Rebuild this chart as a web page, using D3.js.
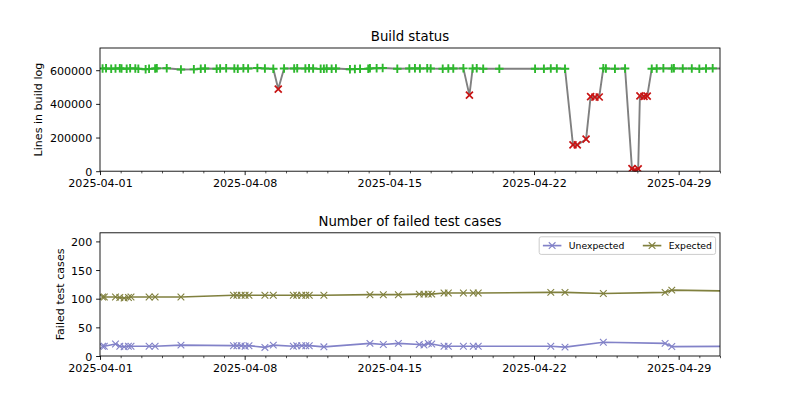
<!DOCTYPE html>
<html><head><meta charset="utf-8">
<script src="https://cdn.jsdelivr.net/npm/d3@7"></script>
<style>
body{margin:0;background:#fff}
svg{display:block}
text{font-family:"DejaVu Sans",sans-serif;fill:#000}
</style>
</head><body>
<svg id="chart" width="800" height="400"></svg>
<script>
// ---------- DATA ----------
const buildTimes = [
 "2025-04-01T03:00","2025-04-01T07:00","2025-04-01T13:00","2025-04-01T18:00","2025-04-01T23:00",
 "2025-04-02T01:00","2025-04-02T07:00","2025-04-02T11:00","2025-04-02T17:00","2025-04-02T20:30",
 "2025-04-03T05:00","2025-04-03T09:00","2025-04-03T16:00","2025-04-03T18:00","2025-04-04T05:30",
 "2025-04-04T22:00","2025-04-05T13:00","2025-04-05T21:00","2025-04-06T02:00","2025-04-06T15:30",
 "2025-04-06T19:30","2025-04-07T02:30","2025-04-07T12:00","2025-04-07T16:00","2025-04-07T22:30",
 "2025-04-08T04:00","2025-04-08T14:45","2025-04-08T23:30","2025-04-09T09:15","2025-04-09T15:00",
 "2025-04-09T21:45","2025-04-10T09:30","2025-04-10T13:00","2025-04-10T22:30","2025-04-11T02:45",
 "2025-04-11T07:30","2025-04-11T16:15","2025-04-11T20:00","2025-04-11T23:15","2025-04-12T05:00",
 "2025-04-12T10:00","2025-04-13T02:15","2025-04-13T08:00","2025-04-13T14:00","2025-04-13T23:30",
 "2025-04-14T01:30","2025-04-14T09:15","2025-04-14T16:15","2025-04-15T09:15","2025-04-15T23:15",
 "2025-04-16T05:45","2025-04-16T11:30","2025-04-16T20:00","2025-04-17T00:00","2025-04-17T14:00",
 "2025-04-17T20:30","2025-04-18T02:15","2025-04-18T14:00","2025-04-18T21:00","2025-04-19T00:45",
 "2025-04-19T05:30","2025-04-19T13:00","2025-04-20T07:45","2025-04-22T01:15","2025-04-22T11:30",
 "2025-04-22T19:30","2025-04-23T02:30","2025-04-23T12:00","2025-04-23T21:15","2025-04-24T02:15",
 "2025-04-24T12:30","2025-04-24T17:45","2025-04-24T22:45","2025-04-25T03:45","2025-04-25T08:30",
 "2025-04-25T11:30","2025-04-25T22:00","2025-04-26T09:45","2025-04-26T17:45","2025-04-26T20:00",
 "2025-04-26T22:30","2025-04-27T01:00","2025-04-27T03:00","2025-04-27T07:45","2025-04-27T11:30",
 "2025-04-27T16:45","2025-04-27T22:30","2025-04-28T06:15","2025-04-28T16:00","2025-04-28T18:30",
 "2025-04-29T04:45","2025-04-29T15:15","2025-04-30T00:00","2025-04-30T07:45","2025-04-30T15:30",
 "2025-05-01T06:00"
];
const buildLines = [
 610000,611000,609000,610000,611000,
 610000,609000,611000,610000,609000,
 606000,608000,610000,611000,612000,
 604000,605000,609000,610000,609000,
 610000,611000,610000,609000,611000,
 610000,613000,610000,609000,488000,
 610000,610000,611000,610000,611000,
 610000,608000,609000,610000,609000,
 610000,606000,607000,608000,609000,
 611000,612000,613000,609000,610000,
 611000,610000,611000,610000,609000,
 610000,610000,611000,452000,610000,
 611000,609000,609000,609000,609000,
 610000,610000,609000,157000,156000,
 190000,443000,440000,441000,611000,
 610000,609000,610000,15000,2000,
 1000,14000,447000,445000,446000,
 609000,610000,611000,610000,611000,
 610000,610000,609000,610000,611000,
 610000
];
const buildStatus = [
 "ok","ok","ok","ok","ok", "ok","ok","ok","ok","ok",
 "ok","ok","ok","ok","ok", "ok","ok","ok","ok","ok",
 "ok","ok","ok","ok","ok", "ok","ok","ok","ok","fail",
 "ok","ok","ok","ok","ok", "ok","ok","ok","ok","ok",
 "ok","ok","ok","ok","ok", "ok","ok","ok","ok","ok",
 "ok","ok","ok","ok","ok", "ok","ok","ok","fail","ok",
 "ok","ok","ok","ok","ok", "ok","ok","ok","fail","fail",
 "fail","fail","fail","fail","ok", "ok","ok","ok","fail","fail",
 "fail","fail","fail","fail","fail", "ok","ok","ok","ok","ok",
 "ok","ok","ok","ok","ok", "ok"
];

const testTimes = [
 "2025-04-01T03:00","2025-04-01T05:00","2025-04-01T18:00","2025-04-01T23:00","2025-04-02T04:00",
 "2025-04-02T09:00","2025-04-02T12:00","2025-04-03T09:00","2025-04-03T16:00","2025-04-04T22:00",
 "2025-04-07T11:00","2025-04-07T15:00","2025-04-07T20:00","2025-04-08T00:30","2025-04-08T05:00",
 "2025-04-08T23:30","2025-04-09T09:15","2025-04-10T08:30","2025-04-10T12:30","2025-04-10T18:15",
 "2025-04-10T23:00","2025-04-11T03:00","2025-04-11T20:00","2025-04-14T01:30","2025-04-14T17:00",
 "2025-04-15T10:30","2025-04-16T10:45","2025-04-16T16:15","2025-04-16T21:15","2025-04-17T01:15",
 "2025-04-17T15:30","2025-04-17T20:30","2025-04-18T14:00","2025-04-19T01:30","2025-04-19T07:15",
 "2025-04-22T19:30","2025-04-23T12:00","2025-04-25T08:30","2025-04-28T08:15","2025-04-28T16:00",
 "2025-05-02T00:00"
];
const unexpectedFails = [
 17,17,21,17,16, 17,17,17,17,19,
 18,18,18,17,18, 15,19,17,18,18,
 18,18,16,22,20, 22,20,19,22,21,
 17,17,17,17,17, 17,15.5,24,22,16.5,
 17
];
const expectedFails = [
 103,103,103,102,101, 102,103,103,103,103,
 106,106,106,106,106, 106,106,106,106,106,
 106,106,106,107,107, 107,108,108,108,108,
 110,110,110,110,110, 111,111,109,111,115,
 113
];

const xMajorTicks = ["2025-04-01","2025-04-08","2025-04-15","2025-04-22","2025-04-29"];
const topYTicks = [0,200000,400000,600000];
const bottomYTicks = [0,50,100,150,200];
const titles = ["Build status","Number of failed test cases"];
const yLabels = ["Lines in build log","Failed test cases"];
const seriesNames = ["Unexpected","Expected"];

// ---------- LAYOUT ----------
const svg = d3.select("#chart");
const parseT = d3.utcParse("%Y-%m-%dT%H:%M");
const parseD = d3.utcParse("%Y-%m-%d");
const L = 100, R = 720;
const boxes = [{y0:48, y1:171.2}, {y0:232.8, y1:356}];
const FS = 11.1, TITLE_FS = 13.3, LEG_FS = 9.26;
const MAJ = 3.89, MIN = 2.2, PAD = 3.89;

const x = d3.scaleUtc()
  .domain([parseD("2025-04-01"), parseD("2025-05-01")])
  .range([L, R]);
const yTop = d3.scaleLinear().domain([0, 732000]).range([boxes[0].y1, boxes[0].y0]);
const yBot = d3.scaleLinear().domain([0, 215]).range([boxes[1].y1, boxes[1].y0]);

const defs = svg.append("defs");
boxes.forEach((b,i)=>{
  defs.append("clipPath").attr("id","clip"+i)
    .append("rect").attr("x",L).attr("y",b.y0).attr("width",R-L).attr("height",b.y1-b.y0);
});

const plusPath = s => `M${-s/2},0H${s/2}M0,${-s/2}V${s/2}`;
const crossPath = s => `M${-s/2},${-s/2}L${s/2},${s/2}M${-s/2},${s/2}L${s/2},${-s/2}`;

function drawAxes(i, y, yTicks){
  const b = boxes[i];
  const majorDates = xMajorTicks.map(parseD);
  const minorDates = d3.utcDay.range(parseD("2025-04-01"), parseD("2025-05-02"))
      .filter(d => !majorDates.some(m => +m === +d));
  const gx = svg.append("g").attr("transform",`translate(0,${b.y1})`);
  gx.call(d3.axisBottom(x).tickValues(minorDates).tickSize(MIN).tickSizeOuter(0).tickFormat(""));
  gx.selectAll(".domain").remove();
  gx.selectAll("line").attr("stroke-width",0.67);
  const gx2 = svg.append("g").attr("transform",`translate(0,${b.y1})`);
  gx2.call(d3.axisBottom(x).tickValues(majorDates).tickSize(MAJ).tickPadding(PAD).tickSizeOuter(0)
      .tickFormat((d,k)=>xMajorTicks[k]));
  gx2.selectAll(".domain").remove();
  gx2.selectAll("line").attr("stroke-width",0.89);
  gx2.selectAll("text").attr("font-size",FS).attr("font-family","DejaVu Sans").attr("dy","0.76em");

  const gy = svg.append("g").attr("transform",`translate(${L},0)`);
  gy.call(d3.axisLeft(y).tickValues(yTicks).tickSize(MAJ).tickPadding(PAD).tickSizeOuter(0)
      .tickFormat(d3.format("d")));
  gy.selectAll(".domain").remove();
  gy.selectAll("line").attr("stroke-width",0.89);
  gy.selectAll("text").attr("font-size",FS).attr("font-family","DejaVu Sans").attr("dy","0.36em");

  svg.append("text").attr("x",(L+R)/2).attr("y",b.y0-7)
    .attr("text-anchor","middle").attr("font-size",TITLE_FS).text(titles[i]);
}

function drawSpine(i){
  const b = boxes[i];
  svg.append("rect").attr("x",L).attr("y",b.y0).attr("width",R-L).attr("height",b.y1-b.y0)
    .attr("fill","none").attr("stroke","#000").attr("stroke-width",0.89);
}

// ---------- TOP: build status ----------
drawAxes(0, yTop, topYTicks);
svg.append("text").attr("transform",`translate(42,${(boxes[0].y0+boxes[0].y1)/2}) rotate(-90)`)
  .attr("text-anchor","middle").attr("font-size",FS).text(yLabels[0]);

const build = buildTimes.map((t,k)=>({t:parseT(t), v:buildLines[k], s:buildStatus[k]}));
const gTop = svg.append("g").attr("clip-path","url(#clip0)");
gTop.append("path").datum(build)
  .attr("d", d3.line().x(d=>x(d.t)).y(d=>yTop(d.v)))
  .attr("fill","none").attr("stroke","#808080").attr("stroke-width",1.9).attr("stroke-linejoin","round");
gTop.selectAll("path.ok").data(build.filter(d=>d.s==="ok")).join("path").attr("class","ok")
  .attr("transform",d=>`translate(${x(d.t)},${yTop(d.v)})`)
  .attr("d",plusPath(8.5)).attr("stroke","#2db82d").attr("stroke-width",1.9).attr("fill","none");
gTop.selectAll("path.fail").data(build.filter(d=>d.s==="fail")).join("path").attr("class","fail")
  .attr("transform",d=>`translate(${x(d.t)},${yTop(d.v)})`)
  .attr("d",crossPath(7)).attr("stroke","#c81414").attr("stroke-width",1.7).attr("fill","none");
drawSpine(0);

// ---------- BOTTOM: failed test cases ----------
drawAxes(1, yBot, bottomYTicks);
svg.append("text").attr("transform",`translate(64,${(boxes[1].y0+boxes[1].y1)/2}) rotate(-90)`)
  .attr("text-anchor","middle").attr("font-size",FS).text(yLabels[1]);

const colors = ["#8282c8","#80803e"];
const tests = testTimes.map(parseT);
const gBot = svg.append("g").attr("clip-path","url(#clip1)");
[unexpectedFails, expectedFails].forEach((vals,si)=>{
  const pts = tests.map((t,k)=>({t, v:vals[k]}));
  gBot.append("path").datum(pts)
    .attr("d", d3.line().x(d=>x(d.t)).y(d=>yBot(d.v)))
    .attr("fill","none").attr("stroke",colors[si]).attr("stroke-width",1.67).attr("stroke-linejoin","round");
  gBot.selectAll(null).data(pts).join("path")
    .attr("transform",d=>`translate(${x(d.t)},${yBot(d.v)})`)
    .attr("d",crossPath(6.67)).attr("stroke",colors[si]).attr("stroke-width",1.1).attr("fill","none");
});
drawSpine(1);

// ---------- LEGEND ----------
const leg = svg.append("g");
const frame = leg.append("rect");
const items = leg.append("g");
const handleLen = 2*LEG_FS, handlePad = 0.8*LEG_FS, colSpace = 2*LEG_FS, bpad = 0.4*LEG_FS;
let cx = 0;
const rowH = LEG_FS*1.1;
seriesNames.forEach((name,si)=>{
  const g = items.append("g").attr("transform",`translate(${cx},0)`);
  g.append("line").attr("x1",0).attr("x2",handleLen).attr("y1",0).attr("y2",0)
    .attr("stroke",colors[si]).attr("stroke-width",1.67);
  g.append("path").attr("transform",`translate(${handleLen/2},0)`).attr("d",crossPath(6.67))
    .attr("stroke",colors[si]).attr("stroke-width",1.1).attr("fill","none");
  const t = g.append("text").attr("x",handleLen+handlePad).attr("y",0).attr("dy","0.36em")
    .attr("font-size",LEG_FS).text(name);
  const w = t.node().getComputedTextLength();
  cx += handleLen + handlePad + w + (si < seriesNames.length-1 ? colSpace : 0);
});
const legW = cx + 2*bpad;
const legH = rowH + 2*bpad;
const legRight = R - 4.4, legTop = boxes[1].y0 + 4.0;
const legLeft = legRight - legW;
frame.attr("x",legLeft).attr("y",legTop).attr("width",legW).attr("height",legH)
  .attr("rx",2).attr("ry",2).attr("fill","#fff").attr("fill-opacity",0.8)
  .attr("stroke","#cccccc").attr("stroke-width",1);
items.attr("transform",`translate(${legLeft+bpad},${legTop+legH/2})`);
</script>
</body></html>
